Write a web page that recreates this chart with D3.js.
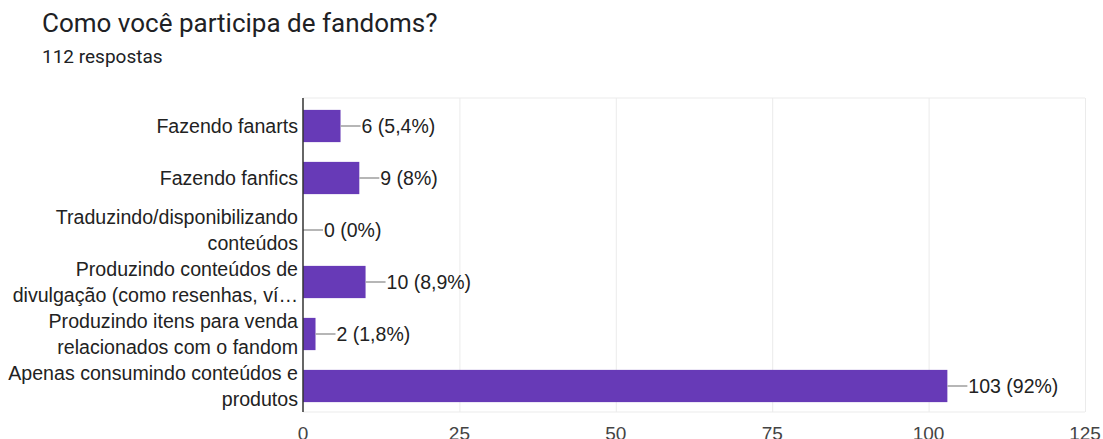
<!DOCTYPE html>
<html>
<head>
<meta charset="utf-8">
<script src="https://cdn.jsdelivr.net/npm/d3@7"></script>
<style>
  body { margin: 0; background: #fff; }
  svg { display: block; }
</style>
</head>
<body>
<div id="chart"></div>
<script>
// data
const categories = [
    ['Fazendo fanarts'],
    ['Fazendo fanfics'],
    ['Traduzindo/disponibilizando', 'conteúdos'],
    ['Produzindo conteúdos de', 'divulgação (como resenhas, ví…'],
    ['Produzindo itens para venda', 'relacionados com o fandom'],
    ['Apenas consumindo conteúdos e', 'produtos']
];
const counts = [6, 9, 0, 10, 2, 103];
const percents = ['5,4%', '8%', '0%', '8,9%', '1,8%', '92%'];
const xTicks = [0, 25, 50, 75, 100, 125];

const width = 1103, height = 439;
const plot = { left: 303, right: 1085, top: 98, bottom: 412 };
const labelFont = 'Liberation Sans, Arial, sans-serif';

const svg = d3.select('#chart').append('svg')
    .attr('width', width)
    .attr('height', height);

svg.append('text')
    .attr('x', 42).attr('y', 32)
    .attr('font-family', 'Roboto, sans-serif')
    .attr('font-size', 26)
    .attr('fill', '#202124')
    .text('Como você participa de fandoms?');

svg.append('text')
    .attr('x', 42).attr('y', 63)
    .attr('font-family', 'Roboto, sans-serif')
    .attr('font-size', 19)
    .attr('fill', '#202124')
    .text('112 respostas');

const x = d3.scaleLinear().domain([0, 125]).range([plot.left, plot.right]);
const y = d3.scaleBand()
    .domain(d3.range(categories.length))
    .range([plot.top + 2, plot.bottom])
    .paddingInner(0.38)
    .paddingOuter(0.19);

// frame + gridlines
svg.append('line')
    .attr('x1', plot.left).attr('x2', plot.right)
    .attr('y1', plot.top).attr('y2', plot.top)
    .attr('stroke', '#ebebeb');
svg.append('line')
    .attr('x1', plot.left).attr('x2', plot.right)
    .attr('y1', plot.bottom).attr('y2', plot.bottom)
    .attr('stroke', '#ebebeb');
svg.selectAll('.grid')
    .data(xTicks.slice(1))
    .enter().append('line')
    .attr('class', 'grid')
    .attr('x1', d => x(d) + 0.5).attr('x2', d => x(d) + 0.5)
    .attr('y1', plot.top).attr('y2', plot.bottom)
    .attr('stroke', '#ebebeb');

// tick labels
svg.selectAll('.tick-label')
    .data(xTicks)
    .enter().append('text')
    .attr('class', 'tick-label')
    .attr('x', d => x(d))
    .attr('y', 440)
    .attr('text-anchor', 'middle')
    .attr('font-family', labelFont)
    .attr('font-size', 19)
    .attr('fill', '#444')
    .text(d => d);

// bars
svg.selectAll('.bar')
    .data(counts)
    .enter().append('rect')
    .attr('class', 'bar')
    .attr('x', x(0))
    .attr('y', (d, i) => y(i))
    .attr('width', d => x(d) - x(0))
    .attr('height', y.bandwidth())
    .attr('fill', '#673ab7');

// leader lines + value labels
const lead = svg.selectAll('.lead')
    .data(counts)
    .enter().append('g')
    .attr('class', 'lead')
    .attr('transform', (d, i) => `translate(${x(d)},${y(i) + y.bandwidth() / 2})`);
lead.append('line')
    .attr('x1', 0).attr('x2', 20)
    .attr('stroke', '#9e9e9e')
    .attr('stroke-width', 1.5);
lead.append('text')
    .attr('x', 21)
    .attr('dy', '0.35em')
    .attr('font-family', labelFont)
    .attr('font-size', 19.5)
    .attr('fill', '#222')
    .text((d, i) => `${d} (${percents[i]})`);

// category labels
const cat = svg.selectAll('.cat')
    .data(categories)
    .enter().append('text')
    .attr('class', 'cat')
    .attr('text-anchor', 'end')
    .attr('font-family', labelFont)
    .attr('font-size', 19.6)
    .attr('fill', '#222');
cat.each(function (lines, i) {
    const cy = y(i) + y.bandwidth() / 2;
    const lh = 26;
    d3.select(this).selectAll('tspan')
        .data(lines)
        .enter().append('tspan')
        .attr('x', 298)
        .attr('y', (d, j) => cy + (j - (lines.length - 1) / 2) * lh)
        .attr('dy', '0.35em')
        .text(d => d);
});

// y axis line
svg.append('line')
    .attr('x1', plot.left).attr('x2', plot.left)
    .attr('y1', plot.top).attr('y2', plot.bottom)
    .attr('stroke', '#333')
    .attr('stroke-width', 1.5);
</script>
</body>
</html>
